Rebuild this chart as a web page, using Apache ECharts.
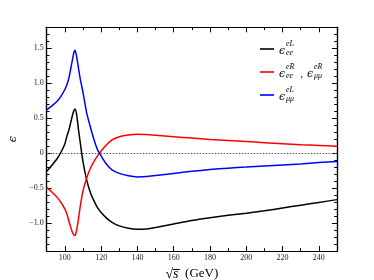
<!DOCTYPE html>
<html>
<head>
<meta charset="utf-8">
<script src="https://cdn.jsdelivr.net/npm/echarts@6/dist/echarts.min.js"></script>
<style>html,body{margin:0;padding:0;background:#fff}#c{width:374px;height:280px}</style>
</head>
<body>
<div id="c"></div>
<script>
// sqrt(s) in GeV
var sqrtS = [90, 93, 96, 98, 100, 101, 102, 103, 104, 105, 105.6, 106.5, 107.5, 108.5, 110, 112, 114, 116, 118, 120, 123, 126, 130, 135, 140, 145, 150, 160, 170, 180, 190, 200, 210, 220, 230, 240, 250];
var epsEEL = [-0.26, -0.17, -0.07, 0.02, 0.13, 0.23, 0.31, 0.41, 0.52, 0.61, 0.63, 0.55, 0.34, 0.15, -0.12, -0.38, -0.56, -0.68, -0.78, -0.85, -0.93, -0.99, -1.04, -1.075, -1.09, -1.085, -1.065, -1.015, -0.965, -0.925, -0.89, -0.86, -0.825, -0.785, -0.745, -0.705, -0.665];
var epsR   = [-0.49, -0.56, -0.64, -0.71, -0.80, -0.86, -0.95, -1.04, -1.12, -1.17, -1.18, -1.10, -0.94, -0.76, -0.54, -0.36, -0.22, -0.12, -0.04, 0.03, 0.12, 0.19, 0.235, 0.26, 0.27, 0.265, 0.255, 0.235, 0.215, 0.195, 0.18, 0.165, 0.15, 0.135, 0.12, 0.11, 0.10];
var epsMML = [0.62, 0.68, 0.75, 0.82, 0.91, 0.97, 1.05, 1.17, 1.31, 1.44, 1.47, 1.38, 1.22, 1.06, 0.87, 0.58, 0.38, 0.20, 0.05, -0.04, -0.16, -0.24, -0.29, -0.325, -0.34, -0.335, -0.32, -0.29, -0.26, -0.235, -0.215, -0.20, -0.185, -0.17, -0.155, -0.135, -0.12];
var xMajor = [100, 120, 140, 160, 180, 200, 220, 240];
var yMajor = [-1.0, -0.5, 0, 0.5, 1.0, 1.5];
var names = ['eeL', 'R', 'mmL'];

function pairs(ys) { return sqrtS.map(function (x, i) { return [x, ys[i]]; }); }
var FF = '"Liberation Serif", "DejaVu Serif", serif';
function fmtY(v) {
  if (Math.abs(v) < 1e-9) return '0';
  var s = Math.abs(v).toFixed(1);
  return v < 0 ? '\u2212' + s : s;
}
var tickCol = '#000';
function baseAxis(pos, isX, major) {
  var a = {
    type: 'value', position: pos,
    min: isX ? 90 : -1.4, max: isX ? 250 : 1.8,
    axisLine: { show: true, onZero: false, lineStyle: { color: '#000', width: 1.2 } },
    splitLine: { show: false },
    axisTick: { show: true, inside: true, length: major ? 5 : 2.8, lineStyle: { color: tickCol, width: 1 } },
    axisLabel: { show: false }
  };
  if (major) {
    a.axisTick.customValues = isX ? xMajor : yMajor;
    a.axisLabel = { show: false, customValues: isX ? xMajor : yMajor };
  } else {
    a.interval = isX ? 10 : 0.1;
  }
  return a;
}
var xa0 = baseAxis('bottom', true, false);
var xa1 = baseAxis('bottom', true, true);
xa1.axisLabel = { show: true, customValues: xMajor, fontFamily: FF, fontSize: 8, color: '#222', margin: 3 };
xa1.name = '{r|\u221A}{s|s\u0305}{n|  (GeV)}';
xa1.nameLocation = 'middle';
xa1.nameGap = 15;
xa1.nameTextStyle = { fontFamily: FF, rich: {
  r: { fontFamily: FF, fontSize: 14, color: '#000' },
  s: { fontFamily: FF, fontSize: 14, fontStyle: 'italic', color: '#000' },
  n: { fontFamily: FF, fontSize: 13, color: '#000' } } };
var xa2 = baseAxis('top', true, false);
var xa3 = baseAxis('top', true, true);
var ya0 = baseAxis('left', false, false);
var ya1 = baseAxis('left', false, true);
ya1.axisLabel = { show: true, customValues: yMajor, fontFamily: FF, fontSize: 8, color: '#222', margin: 3, formatter: fmtY };
ya1.name = '\u03F5';
ya1.nameLocation = 'middle';
ya1.nameGap = 25;
ya1.nameTextStyle = { fontFamily: '"DejaVu Serif", serif', fontSize: 11, fontStyle: 'italic', color: '#000' };
var ya2 = baseAxis('right', false, false);
var ya3 = baseAxis('right', false, true);

var rich = {
  pe: { width: 7, fontSize: 8, lineHeight: 5 },
  eps: { width: 7, fontFamily: '"DejaVu Serif", serif', fontStyle: 'italic', fontSize: 11, color: '#000', lineHeight: 10 },
  sup: { width: 12, fontFamily: FF, fontStyle: 'italic', fontSize: 8, color: '#000', lineHeight: 5 },
  sub: { width: 12, fontFamily: FF, fontStyle: 'italic', fontSize: 8, color: '#000', verticalAlign: 'bottom', lineHeight: 10, padding: [2, 0, 0, 0] },
  pc: { width: 9, fontSize: 8, lineHeight: 5 },
  c: { width: 9, fontFamily: FF, fontSize: 10, color: '#000', lineHeight: 10 }
};
var labels = {
  eeL: '{pe| }{sup|eL}\n{eps|\u03F5}{sub|ee}',
  R: '{pe| }{sup|eR}{pc| }{pe| }{sup|eR}\n{eps|\u03F5}{sub|ee}{c| ,}{eps|\u03F5}{sub|\u03BC\u03BC}',
  mmL: '{pe| }{sup|eL}\n{eps|\u03F5}{sub|\u03BC\u03BC}'
};
var colors = ['#000000', '#ff0000', '#0000ff'];
var datas = [epsEEL, epsR, epsMML];
var series = names.map(function (n, i) {
  var s = {
    name: n, type: 'line', xAxisIndex: 0, yAxisIndex: 0,
    data: pairs(datas[i]), smooth: 0.25, showSymbol: false, symbol: 'none',
    lineStyle: { color: colors[i], width: 1.5 }, itemStyle: { color: colors[i] },
    z: 3 + i
  };
  if (i === 0) {
    s.markLine = { silent: true, symbol: 'none', label: { show: false },
      lineStyle: { color: '#555', type: [1.5, 1.5], width: 1 },
      data: [{ yAxis: 0 }] };
  }
  return s;
});
var chart = echarts.init(document.getElementById('c'), null, { renderer: 'canvas' });
chart.setOption({
  animation: false,
  backgroundColor: '#fff',
  grid: { left: 46.7, top: 27.3, right: 37, bottom: 29, containLabel: false, outerBoundsMode: 'none' },
  xAxis: [xa0, xa1, xa2, xa3],
  yAxis: [ya0, ya1, ya2, ya3],
  legend: {
    orient: 'vertical', left: 255, top: 35, itemWidth: 14, itemHeight: 1.6, itemGap: 6,
    icon: 'rect', data: names,
    textStyle: { rich: rich, fontFamily: FF },
    formatter: function (n) { return labels[n]; }
  },
  series: series
});
</script>
</body>
</html>
